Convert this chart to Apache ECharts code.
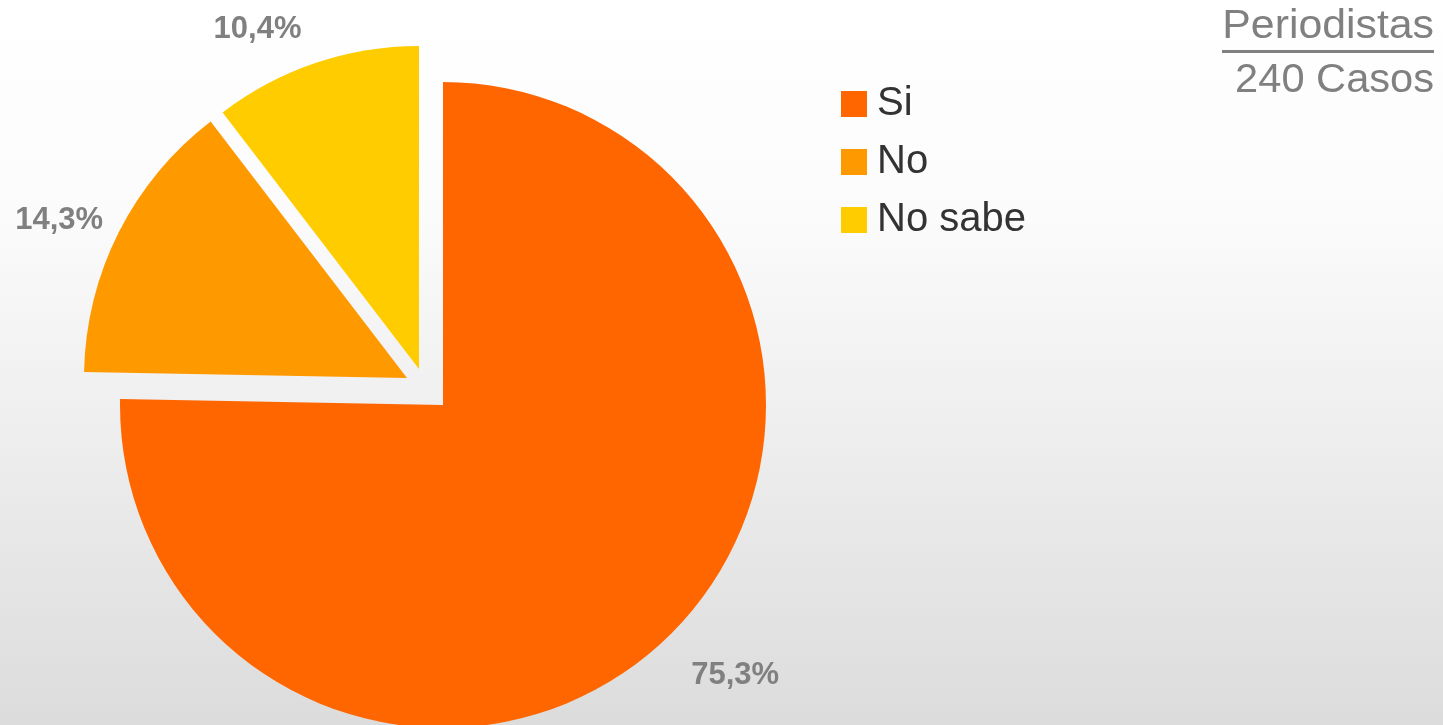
<!DOCTYPE html>
<html>
<head>
<meta charset="utf-8">
<script src="https://cdn.jsdelivr.net/npm/echarts@6/dist/echarts.min.js"></script>
<style>
html,body{margin:0;padding:0;background:#fff;}
#chart{width:1443px;height:725px;}
</style>
</head>
<body>
<div id="chart"></div>
<script>
var categories = ['Si', 'No', 'No sabe'];
var values = [75.3, 14.3, 10.4];
var colors = ['#FF6600', '#FF9900', '#FFCC00'];
var titleLine1 = 'Periodistas';
var titleLine2 = '240 Casos';

// layout (not data): pie centre, explode shift per slice, label nudges
var pieCenter = [443, 405];
var explodeShift = [[0, 0], [-36, -27], [-24, -36]];
var labelNudge = [[-11, 11], [25, 6], [4, 4]];
var FONT = '"Liberation Sans", Arial, sans-serif';

var chart = echarts.init(document.getElementById('chart'), null, {renderer: 'canvas'});

function fmt(v) { return v.toFixed(1).replace('.', ',') + '%'; }

var series = categories.map(function (cat, k) {
  return {
    type: 'pie',
    name: cat,
    center: [pieCenter[0] + explodeShift[k][0], pieCenter[1] + explodeShift[k][1]],
    radius: 323,
    startAngle: 90,
    clockwise: true,
    silent: true,
    avoidLabelOverlap: false,
    emphasis: {disabled: true},
    legendHoverLink: false,
    itemStyle: {borderWidth: 0},
    label: {
      show: true,
      position: 'outside',
      alignTo: 'none',
      formatter: function (p) { return fmt(p.value); },
      fontSize: 31,
      fontWeight: 'bold',
      color: '#808080',
      fontFamily: FONT
    },
    labelLine: {show: false, length: 40, length2: 0},
    labelLayout: {dx: labelNudge[k][0], dy: labelNudge[k][1]},
    data: categories.map(function (c, i) {
      return {
        name: c,
        value: values[i],
        itemStyle: {color: i === k ? colors[i] : 'rgba(0,0,0,0)'},
        label: {show: i === k}
      };
    })
  };
});

var option = {
  animation: false,
  backgroundColor: {
    type: 'linear', x: 0, y: 0, x2: 0, y2: 1,
    colorStops: [
      {offset: 0, color: '#ffffff'},
      {offset: 0.3, color: '#fbfbfb'},
      {offset: 1, color: '#dcdcdc'}
    ]
  },
  legend: {
    orient: 'vertical',
    left: 841,
    top: 84,
    padding: 0,
    itemWidth: 26,
    itemHeight: 26,
    itemGap: 18,
    icon: 'rect',
    selectedMode: false,
    data: categories.map(function (c, i) { return {name: c, itemStyle: {color: colors[i]}}; }),
    textStyle: {fontSize: 40, color: '#333333', fontFamily: FONT, padding: [0, 0, 0, 5]}
  },
  graphic: [
    {type: 'text', x: 1434, y: 27, scaleX: 1.07, style: {text: titleLine1, fill: '#808080', font: '40px ' + FONT, align: 'right', verticalAlign: 'middle'}},
    {type: 'rect', x: 1222, y: 50, shape: {width: 212, height: 3}, style: {fill: '#808080'}},
    {type: 'text', x: 1434, y: 81, scaleX: 1.04, style: {text: titleLine2, fill: '#808080', font: '40px ' + FONT, align: 'right', verticalAlign: 'middle'}}
  ],
  series: series
};
chart.setOption(option);
</script>
</body>
</html>
